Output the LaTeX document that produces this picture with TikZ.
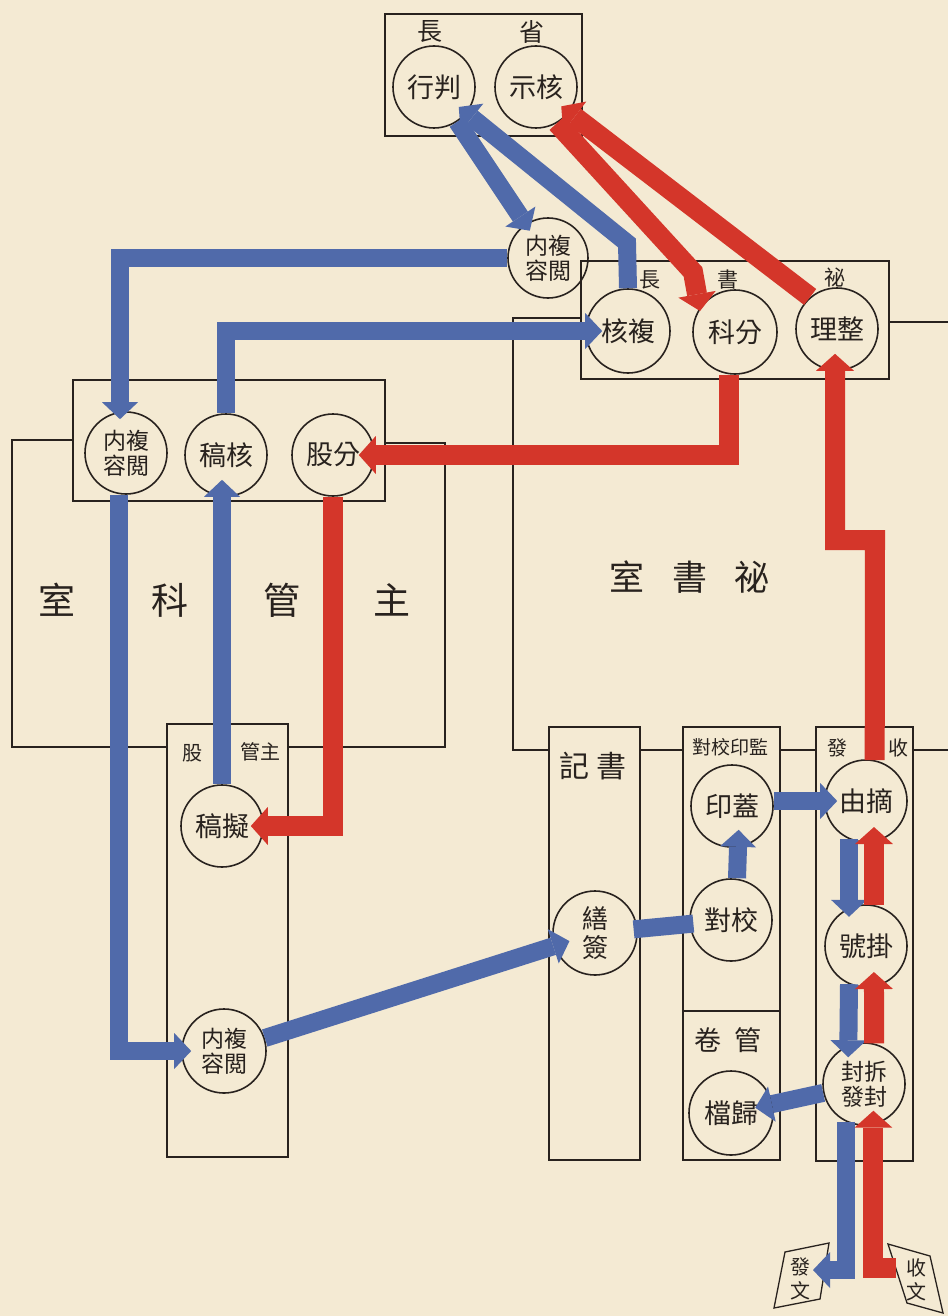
\documentclass[tikz,border=0pt]{standalone}
\usepackage{fontspec}
\newfontfamily\cjkf{Noto Sans CJK TC}
\usetikzlibrary{arrows.meta}
\definecolor{paper}{RGB}{244,234,211}
\definecolor{inkblue}{RGB}{80,106,170}
\definecolor{inkred}{RGB}{212,54,42}
\definecolor{ink}{RGB}{40,34,30}
\newcommand{\myfs}[2]{\fontsize{#1pt}{#2pt}\selectfont}
\begin{document}
\begin{tikzpicture}[x=1pt,y=-1pt,
  box/.style={draw=ink,line width=1.3pt},
  stn/.style={circle,draw=ink,line width=1.6pt,minimum size=82pt,inner sep=0pt,text=ink,font=\cjkf\myfs{27}{27}},
  stntwo/.style={stn,align=center,font=\cjkf\myfs{23}{25}},
  lab/.style={inner sep=0pt,text=ink},
  bflow/.style={draw=inkblue,line width=18pt,-{Triangle[width=36pt,length=17pt,line width=0pt]}},
  bband/.style={draw=inkblue,line width=18pt},
  rflow/.style={draw=inkred,line width=20pt,-{Triangle[width=38pt,length=17pt,line width=0pt]}}
]
\fill[paper] (0,0) rectangle (948,1316);
\useasboundingbox (0,0) rectangle (948,1316);

% ---------- boxes and frame lines ----------
\draw[box] (385,14) rectangle (582,136);
\draw[box] (581,261) rectangle (889,379);
\draw[box] (889,322) -- (948,322);
\draw[box] (581,318) -- (513,318) -- (513,750) -- (549,750);
\draw[box] (640,750) -- (683,750);
\draw[box] (780,750) -- (816,750);
\draw[box] (913,750) -- (948,750);
\draw[box] (73,380) rectangle (385,501);
\draw[box] (73,440) -- (12,440) -- (12,747) -- (167,747);
\draw[box] (288,747) -- (445,747) -- (445,443) -- (385,443);
\draw[box] (167,724) rectangle (288,1157);
\draw[box] (549,727) rectangle (640,1160);
\draw[box] (683,727) rectangle (780,1160);
\draw[box] (683,1011) -- (780,1011);
\draw[box] (816,727) rectangle (913,1161);
\draw[box] (785,1252) -- (829,1243) -- (820,1299) -- (774,1308) -- cycle;
\draw[box] (888,1244) -- (930,1256) -- (943,1313) -- (907,1303) -- cycle;

% ---------- labels ----------
\node[lab,font=\cjkf\myfs{25}{25}] (t1) at (430,32) {長};
\node[lab,font=\cjkf\myfs{25}{25}] (t2) at (532,32) {省};
\node[lab,font=\cjkf\myfs{21}{21}] (s1) at (650,280) {長};
\node[lab,font=\cjkf\myfs{21}{21}] (s2) at (728,280) {書};
\node[lab,font=\cjkf\myfs{21}{21}] (s3) at (835,278) {祕};
\node[lab,font=\cjkf\myfs{37}{37}] (k1) at (57,600) {室};
\node[lab,font=\cjkf\myfs{37}{37}] (k2) at (170,600) {科};
\node[lab,font=\cjkf\myfs{37}{37}] (k3) at (282,600) {管};
\node[lab,font=\cjkf\myfs{37}{37}] (k4) at (392,600) {主};
\node[lab,font=\cjkf\myfs{20}{20}] (g1) at (192,753) {股};
\node[lab,font=\cjkf\myfs{20}{20}] (g2) at (260,752) {管主};
\node[lab,font=\cjkf\myfs{35}{35}] (m1) at (627,577) {室};
\node[lab,font=\cjkf\myfs{35}{35}] (m2) at (690,577) {書};
\node[lab,font=\cjkf\myfs{35}{35}] (m3) at (752,577) {祕};
\node[lab,font=\cjkf\myfs{30}{30}] (j1) at (593,766) {記\hspace{8pt}書};
\node[lab,font=\cjkf\myfs{19}{19}] (j2) at (730,747) {對校印監};
\node[lab,font=\cjkf\myfs{20}{20}] (j3) at (837,748) {發};
\node[lab,font=\cjkf\myfs{20}{20}] (j4) at (898,748) {收};
\node[lab,font=\cjkf\myfs{27}{27}] (j5) at (728,1040) {卷\hspace{14pt}管};
\node[lab,align=center,font=\cjkf\myfs{20}{24}] (fw) at (800,1279) {發\\文};
\node[lab,align=center,font=\cjkf\myfs{20}{24}] (sw) at (916,1280) {收\\文};

% ---------- stations ----------
\node[stn] (xp) at (434,87) {行判};
\node[stn] (hs) at (536,87) {示核};
\node[stntwo,minimum size=80pt] (nr1) at (548,258) {内複\\容閲};
\node[stn,minimum size=84pt] (hf) at (628,331) {核複};
\node[stn,minimum size=84pt] (kf) at (735,332) {科分};
\node[stn] (zl) at (837,329) {理整};
\node[stntwo] (nr2) at (126,453) {内複\\容閲};
\node[stn] (hg) at (226,455) {稿核};
\node[stn] (gf) at (333,455) {股分};
\node[stn] (ng) at (222,826) {稿擬};
\node[stntwo,minimum size=84pt] (nr3) at (224,1051) {内複\\容閲};
\node[stntwo,minimum size=84pt,font=\cjkf\myfs{26}{29}] (sq) at (595,933) {繕\\簽};
\node[stn] (yg) at (732,806) {印蓋};
\node[stn] (dj) at (731,920) {對校};
\node[stn,minimum size=84pt] (dg) at (731,1113) {檔歸};
\node[stn] (zy) at (866,801) {由摘};
\node[stn] (hk) at (866,946) {號掛};
\node[stntwo] (cf) at (864,1084) {封拆\\發封};

% ---------- blue flows ----------
\coordinate (b2) at (627,243);
\coordinate (fwin) at (813,1270);
\draw[bflow,shorten >=-8pt] (xp) -- (nr1);
\draw[bflow,shorten >=-10pt] (hf.north) -- (b2) -- (xp);
\draw[bflow,shorten >=-8pt] (nr1.west) -| ([xshift=-6pt]nr2.north);
\draw[bflow,shorten >=-17pt] (hg.north) |- (hf.west);
\draw[bflow,shorten >=-17pt] (ng.north) -- (ng.north |- hg.south);
\draw[bflow,shorten >=-10pt] ([xshift=-7pt]nr2.south) |- (nr3.west);
\draw[bflow,shorten >=-16pt] (nr3) -- (sq);
\draw[bband,shorten <=-4pt,shorten >=-4pt] (dj) -- (sq);
\draw[bflow,shorten >=-18pt] ([xshift=6pt]dj.north) -- ([xshift=6pt]yg.south);
\draw[bflow,shorten >=-13pt] (yg.east |- zy.west) -- (zy.west);
\draw[bflow,shorten >=-9pt] (zy.-114) -- (hk.114);
\draw[bflow,shorten >=-12pt] (hk.-114) -- (cf.112);
\draw[bflow,shorten >=-18pt] (cf) -- (dg);
\draw[bflow] (cf.-116) |- (fwin);

% ---------- red flows ----------
\coordinate (r2) at (693,272);
\coordinate (swin) at (896,1268);
\coordinate (r8a) at (875,540);
\coordinate (r8b) at (835,540);
\draw[rflow,shorten >=-10pt] (zl.130) -- (hs);
\draw[rflow,shorten >=-3pt] (hs.-60) -- (r2) -- (kf.146);
\draw[rflow,shorten >=-16pt] ([xshift=-6pt]kf.south) |- (gf.east);
\draw[rflow,shorten >=-13pt] (gf.south) |- (ng.east);
\draw[rflow,shorten >=-14pt] (swin) -| (cf.-77);
\draw[rflow,shorten >=-15pt] (cf.76) -- (hk.-79);
\draw[rflow,shorten >=-15pt] (hk.79) -- (zy.-79);
\draw[rflow,shorten >=-17pt] (zy.78) -- (r8a) -- (r8b) -- (r8b |- zl.south);
\end{tikzpicture}
\end{document}
